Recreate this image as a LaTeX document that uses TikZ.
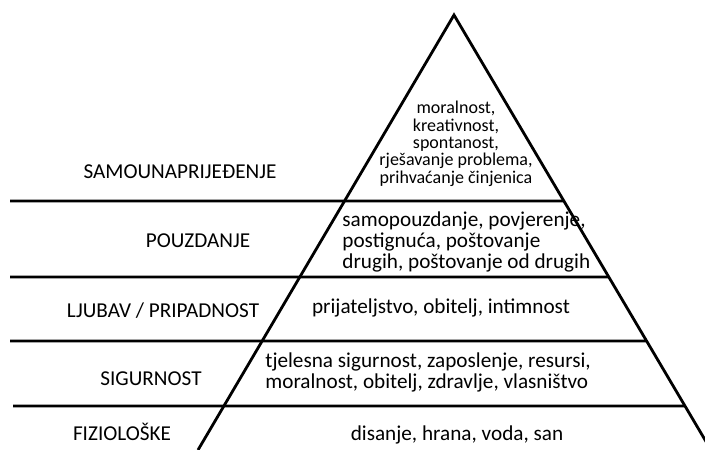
\documentclass[tikz,border=0pt]{standalone}
\usepackage{fontspec}
\setmainfont{Carlito}
\usepackage{tikz}
\usetikzlibrary{calc}

\begin{document}
\begin{tikzpicture}[x=1pt, y=-1pt,
			line width=2.8pt,
			lvl/.style={font=\fontsize{21.2}{21}\selectfont, inner sep=0pt, anchor=base},
			need/.style={font=\fontsize{21.2}{20.7}\selectfont, inner sep=0pt, anchor=base west, align=left},
			top/.style={font=\fontsize{18}{17.3}\selectfont, inner sep=0pt, anchor=base, align=center}]
			
			\useasboundingbox (0,0) rectangle (705,450);
			\clip (0,0) rectangle (705,450);
			
			\coordinate (apex) at (454,15);
			\coordinate (bl) at (198,450);
			\coordinate (br) at (711,450);
			\draw (bl) -- (apex) -- (br);
			
			\foreach \y/\n/\x in {201/a/10, 277/b/10, 341/c/10, 406/d/13} {
				\coordinate (l\n) at (\x,\y);
				\coordinate (r\n) at ($(apex)!{(\y-15)/435}!(br)$);
				\draw (l\n) -- (r\n);
			}
			
			\node[lvl] (samo) at (180,178) {SAMOUNAPRIJEĐENJE};
			\node[lvl] (pouz) at (198,247) {POUZDANJE};
			\node[lvl] (ljub) at (163,317) {LJUBAV / PRIPADNOST};
			\node[lvl] (sigu) at (151,385) {SIGURNOST};
			\node[lvl] (fizi) at (122,440) {FIZIOLOŠKE};
			
			\node[top] (vrh) at (456,183) {moralnost,\\ kreativnost,\\ spontanost,\\ rješavanje problema,\\ prihvaćanje činjenica};
			\node[need] (pouzdanje) at (341,268) {samopouzdanje, povjerenje,\\ postignuća, poštovanje\\ drugih, poštovanje od drugih};
			\node[need, anchor=base] (ljubav) at (441,313) {prijateljstvo, obitelj, intimnost};
			\node[need] (sigurnost) at (264,388) {tjelesna sigurnost, zaposlenje, resursi,\\ moralnost, obitelj, zdravlje, vlasništvo};
			\node[need, anchor=base] (fiziol) at (457,440) {disanje, hrana, voda, san};
		\end{tikzpicture}
\end{document}
